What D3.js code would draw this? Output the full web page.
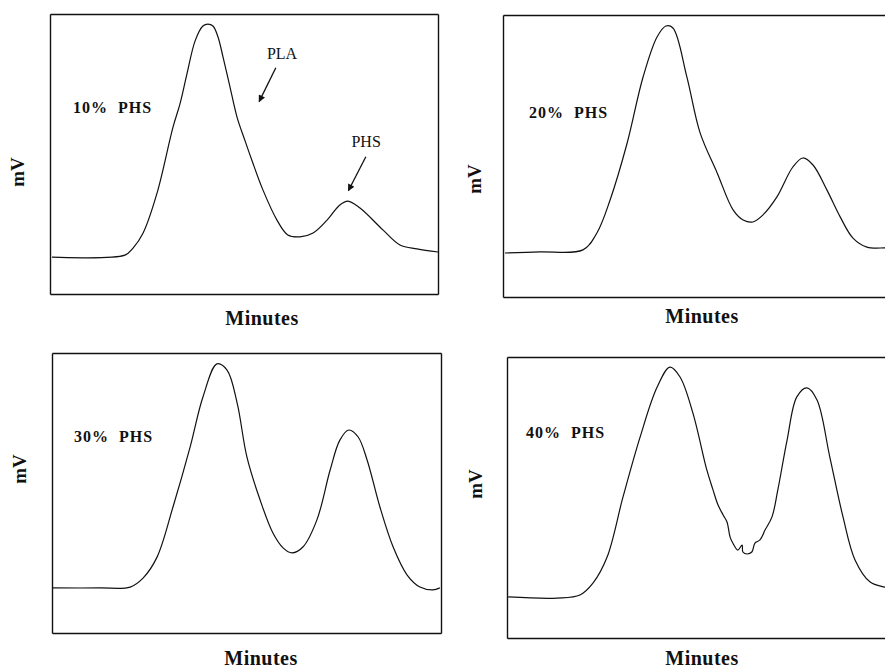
<!DOCTYPE html>
<html>
<head>
<meta charset="utf-8">
<script src="https://cdn.jsdelivr.net/npm/d3@7"></script>
<style>
  body { margin: 0; background: #fff; }
  svg { display: block; }
  text { font-family: "Liberation Serif", "Times New Roman", serif; fill: #111; }
</style>
</head>
<body>
<svg id="chart" width="885" height="668"></svg>
<script>
// Chromatograms of PLA / PHS blends (relative time 0-100, relative signal 0-100)

// 10% PHS
var time10 = [0.5, 19.3, 21.4, 24.0, 27.6, 31.7, 33.5, 35.3, 37.4, 39.4, 40.7, 42.0, 43.3, 44.6, 46.4, 48.2, 50.3, 52.1, 54.9, 58.5, 61.3, 64.4, 67.8, 71.4, 74.7, 76.8, 79.9, 85.8, 90.2, 94.6, 100];
var signal10 = [13.2, 13.9, 16.4, 21.8, 36.1, 59.6, 67.9, 78.6, 90.4, 95.7, 96.4, 95.7, 91.8, 84.6, 73.9, 63.2, 54.6, 47.5, 37.1, 26.4, 21.1, 20.4, 21.8, 26.4, 31.8, 33.2, 30.7, 22.9, 17.5, 16.1, 15.0];

// 20% PHS
var time20 = [0.5, 9.5, 20.6, 24.2, 27.6, 32.0, 36.1, 39.7, 42.0, 43.8, 47.4, 50.8, 55.2, 59.3, 61.9, 64.4, 67.0, 70.6, 74.7, 77.3, 79.9, 83.5, 86.9, 90.2, 93.8, 98.5, 100];
var signal20 = [15.6, 16.0, 16.7, 22.7, 34.4, 54.6, 78.0, 92.2, 96.1, 95.4, 78.0, 58.2, 44.0, 30.9, 27.3, 26.6, 29.1, 35.5, 46.1, 49.3, 46.8, 37.9, 28.4, 20.9, 17.7, 17.4, 17.3];

// 30% PHS
var time30 = [0, 12.3, 20.1, 23.4, 27.0, 31.1, 35.5, 38.8, 42.4, 45.0, 47.6, 50.1, 53.5, 56.8, 59.4, 61.7, 64.5, 68.1, 71.5, 74.0, 76.3, 78.7, 81.0, 84.3, 87.7, 91.3, 94.6, 97.9, 99.7];
var signal30 = [16.1, 16.1, 16.4, 19.6, 27.1, 45.0, 66.4, 84.3, 96.1, 93.9, 82.1, 62.9, 47.5, 35.7, 30.4, 28.6, 30.7, 40.4, 58.2, 68.9, 72.5, 70.0, 61.8, 45.0, 30.7, 20.7, 16.4, 15.4, 16.1];

// 40% PHS
var time40 = [0.3, 12.9, 18.8, 22.2, 25.8, 29.9, 34.3, 38.7, 42.0, 44.6, 47.9, 51.5, 53.1, 54.4, 55.7, 56.7, 57.5, 58.2, 59.5, 60.6, 60.8, 61.9, 63.1, 63.9, 65.2, 66.5, 68.3, 69.8, 72.2, 74.7, 77.3, 79.9, 83.2, 86.6, 89.7, 93.6, 97.4, 100];
var signal40 = [14.6, 14.2, 15.3, 19.6, 28.8, 50.2, 71.5, 89.3, 96.4, 92.9, 80.1, 59.8, 52.7, 47.3, 43.8, 41.3, 35.9, 33.8, 31.3, 33.1, 30.6, 29.9, 30.6, 33.8, 34.9, 38.4, 43.1, 52.7, 70.5, 85.8, 89.0, 84.7, 64.4, 43.1, 27.8, 19.9, 18.1, 17.4];

var panelLabels = ["10%\u00a0\u00a0PHS", "20%\u00a0\u00a0PHS", "30%\u00a0\u00a0PHS", "40%\u00a0\u00a0PHS"];
var xTitle = "Minutes";
var yTitle = "mV";

// peak annotations on the 10% panel
var peakNames = ["PLA", "PHS"];
var peakLabelPos = [[55.9, 83.9], [77.7, 52.5]];
var peakArrowFrom = [[58.2, 80.8], [81.4, 49.0]];
var peakArrowTo = [[53.9, 68.7], [76.9, 36.9]];

// layout of the four boxes (pixels)
var panels = [
  { time: time10, signal: signal10, left: 50,  top: 14,  w: 388, h: 280, lx: 23, ly: 99,  mx: 262, my: 325, vx: 24, vy: 172 },
  { time: time20, signal: signal20, left: 503, top: 15,  w: 388, h: 282, lx: 26, ly: 103, mx: 702, my: 323, vx: 481, vy: 179 },
  { time: time30, signal: signal30, left: 52,  top: 353, w: 389, h: 280, lx: 22, ly: 89,  mx: 261, my: 665, vx: 26, vy: 469 },
  { time: time40, signal: signal40, left: 507, top: 357, w: 388, h: 281, lx: 19, ly: 81,  mx: 702, my: 665, vx: 482, vy: 484 }
];

var svg = d3.select("#chart");

svg.append("rect").attr("width", 885).attr("height", 668).attr("fill", "#fff");

// arrow head for annotations
svg.append("defs")
  .append("marker")
  .attr("id", "arrowhead")
  .attr("viewBox", "0 0 10 10")
  .attr("refX", 9)
  .attr("refY", 5)
  .attr("markerWidth", 9)
  .attr("markerHeight", 7)
  .attr("markerUnits", "userSpaceOnUse")
  .attr("orient", "auto")
  .append("path")
  .attr("d", "M0,0 L10,5 L0,10 Z")
  .attr("fill", "#111");

panels.forEach(function(p, i) {
  var x = d3.scaleLinear().domain([0, 100]).range([p.left, p.left + p.w]);
  var y = d3.scaleLinear().domain([0, 100]).range([p.top + p.h, p.top]);

  var g = svg.append("g");

  // box frame built from tickless axes
  function frame(axis, tx, ty) {
    g.append("g")
      .attr("transform", "translate(" + tx + "," + ty + ")")
      .call(axis.tickValues([]).tickSizeOuter(0))
      .select(".domain")
      .attr("stroke", "#111")
      .attr("stroke-width", 1.4);
  }
  frame(d3.axisBottom(x), 0, p.top + p.h);
  frame(d3.axisTop(x), 0, p.top);
  frame(d3.axisLeft(y), p.left, 0);
  frame(d3.axisRight(y), p.left + p.w, 0);

  // trace
  var pts = p.time.map(function(t, k) { return [t, p.signal[k]]; });
  var line = d3.line()
    .x(function(d) { return x(d[0]); })
    .y(function(d) { return y(d[1]); })
    .curve(d3.curveCatmullRom.alpha(0.5));

  g.append("path")
    .datum(pts)
    .attr("d", line)
    .attr("fill", "none")
    .attr("stroke", "#111")
    .attr("stroke-width", 1.2)
    .attr("stroke-linejoin", "round");

  // panel label
  g.append("text")
    .attr("x", p.left + p.lx)
    .attr("y", p.top + p.ly)
    .style("font-size", "16px")
    .style("font-weight", "bold")
    .style("letter-spacing", "1px")
    .text(panelLabels[i]);

  // axis titles
  g.append("text")
    .attr("x", p.mx)
    .attr("y", p.my)
    .attr("text-anchor", "middle")
    .style("font-size", "20px")
    .style("font-weight", "bold")
    .style("letter-spacing", "0.5px")
    .text(xTitle);

  g.append("text")
    .attr("transform", "translate(" + p.vx + "," + p.vy + ") rotate(-90)")
    .attr("text-anchor", "middle")
    .style("font-size", "19px")
    .style("font-weight", "bold")
    .text(yTitle);

  // peak annotations only on first panel
  if (i === 0) {
    peakNames.forEach(function(name, k) {
      g.append("text")
        .attr("x", x(peakLabelPos[k][0]))
        .attr("y", y(peakLabelPos[k][1]))
        .style("font-size", "16px")
        .text(name);

      g.append("line")
        .attr("x1", x(peakArrowFrom[k][0]))
        .attr("y1", y(peakArrowFrom[k][1]))
        .attr("x2", x(peakArrowTo[k][0]))
        .attr("y2", y(peakArrowTo[k][1]))
        .attr("stroke", "#111")
        .attr("stroke-width", 1.3)
        .attr("marker-end", "url(#arrowhead)");
    });
  }
});
</script>
</body>
</html>
